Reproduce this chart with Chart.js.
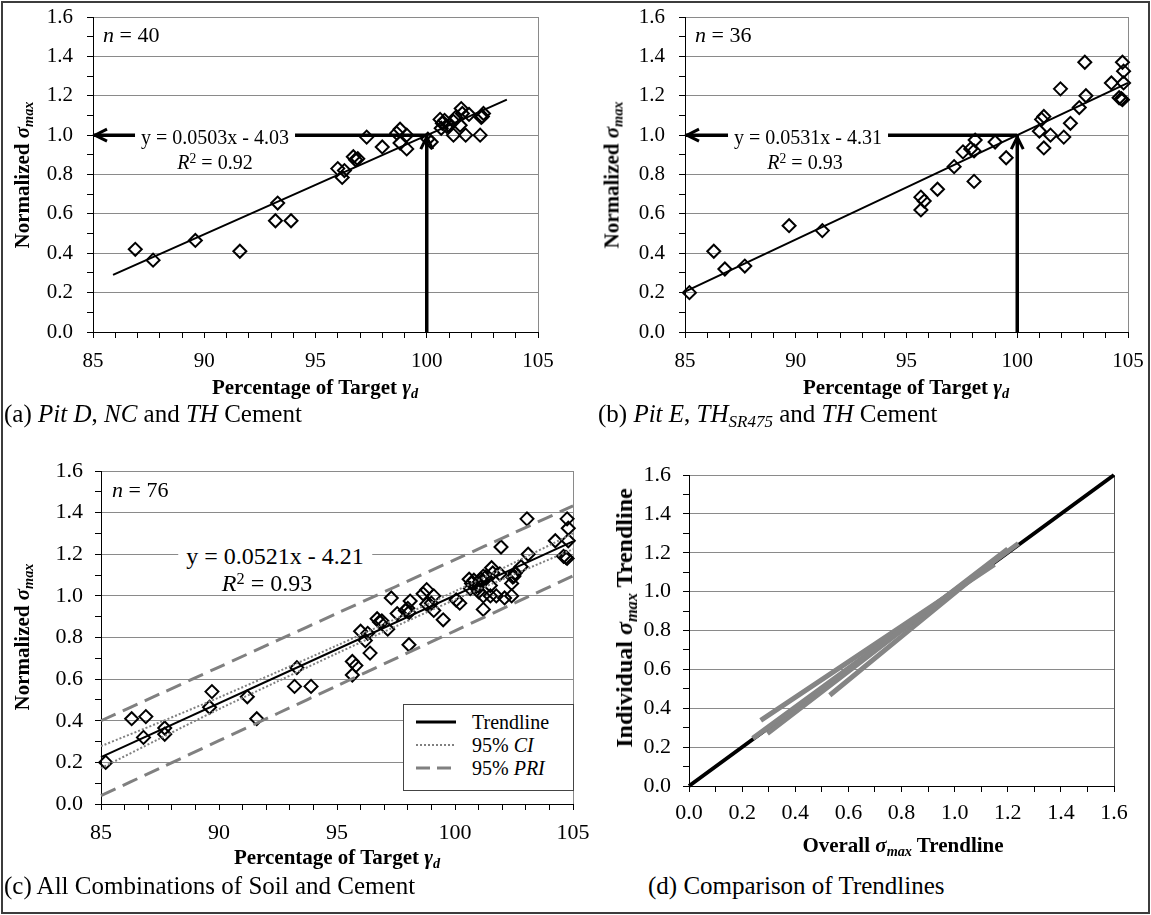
<!DOCTYPE html>
<html>
<head>
<meta charset="utf-8">
<script src="https://cdn.jsdelivr.net/npm/chart.js@4.4.1/dist/chart.umd.min.js"></script>
<style>
  body { margin: 0; background: #fff; }
  #fig { position: relative; width: 1151px; height: 915px; font-family: 'Liberation Serif', 'Times New Roman', serif; color: #000; overflow: hidden; }
  #frame { position: absolute; left: 1px; top: 1px; width: 1145px; height: 909px; border: 2px solid #3c3c3c; }
  canvas { position: absolute; }
  .t { position: absolute; white-space: nowrap; line-height: 1; transform: translate(-50%, -50%); }
  .l { position: absolute; white-space: nowrap; line-height: 1; transform: translate(0, -50%); }
  .v { position: absolute; white-space: nowrap; line-height: 1; transform: translate(-50%, -50%) rotate(-90deg); font-weight: bold; font-size: 21px; }
  .xt { font-weight: bold; font-size: 21px; }
  .cap { font-size: 25px; }
  .n { font-size: 22px; }
  .eq { background: #fff; padding: 1px 6px; }
  sub, sup { font-size: 0.68em; line-height: 0; }
  sub { vertical-align: -0.3em; }
  sup { vertical-align: 0.45em; }
  #legend { position: absolute; left: 403px; top: 704px; width: 169px; height: 85px; border: 1px solid #444; background: #fff; font-size: 20px; }
  #legend svg { position: absolute; left: 0; top: 0; }
  #legend div { position: absolute; left: 68px; white-space: nowrap; line-height: 1; transform: translate(0, -50%); }
</style>
</head>
<body>
<div id="fig">
  <canvas id="chA" width="555" height="395" style="left:5px;top:5px"></canvas>
  <canvas id="chB" width="555" height="395" style="left:595px;top:5px"></canvas>
  <canvas id="chC" width="590" height="415" style="left:5px;top:455px"></canvas>
  <canvas id="chD" width="540" height="415" style="left:600px;top:455px"></canvas>

  <!-- panel (a) -->
  <div class="l n" style="left:103px;top:35px"><i>n</i> = 40</div>
  <div class="t eq" style="left:215px;top:137px;font-size:20px">y = 0.0503x - 4.03</div>
  <div class="t" style="left:215px;top:162px;font-size:20px"><i>R</i><sup>2</sup> = 0.92</div>
  <div class="v" style="left:22px;top:175px">Normalized <i>σ<sub>max</sub></i></div>
  <div class="t xt" style="left:315px;top:387px">Percentage of Target <i>γ<sub>d</sub></i></div>
  <div class="l cap" style="left:4px;top:413px">(a) <i>Pit D</i>, <i>NC</i> and <i>TH</i> Cement</div>

  <!-- panel (b) -->
  <div class="l n" style="left:695px;top:35px"><i>n</i> = 36</div>
  <div class="t eq" style="left:808px;top:137px;font-size:20px">y = 0.0531x - 4.31</div>
  <div class="t" style="left:805px;top:162px;font-size:20px"><i>R</i><sup>2</sup> = 0.93</div>
  <div class="v" style="left:612px;top:175px">Normalized <i>σ<sub>max</sub></i></div>
  <div class="t xt" style="left:906px;top:387px">Percentage of Target <i>γ<sub>d</sub></i></div>
  <div class="l cap" style="left:598px;top:413px">(b) <i>Pit E</i>, <i>TH<sub>SR475</sub></i> and <i>TH</i> Cement</div>

  <!-- panel (c) -->
  <div class="l n" style="left:112px;top:490px"><i>n</i> = 76</div>
  <div class="t eq" style="left:275px;top:556px;font-size:24px;padding:1px 8px">y = 0.0521x - 4.21</div>
  <div class="t" style="left:267px;top:583px;font-size:24px"><i>R</i><sup>2</sup> = 0.93</div>
  <div class="v" style="left:22px;top:637px">Normalized <i>σ<sub>max</sub></i></div>
  <div class="t xt" style="left:337px;top:857px">Percentage of Target <i>γ<sub>d</sub></i></div>
  <div class="l cap" style="left:4px;top:885px">(c) All Combinations of Soil and Cement</div>
  <div id="legend">
    <svg width="169" height="85">
      <line x1="12" y1="17" x2="52" y2="17" stroke="#000" stroke-width="3"/>
      <line x1="12" y1="40" x2="52" y2="40" stroke="#808080" stroke-width="2" stroke-dasharray="2,2"/>
      <line x1="12" y1="63" x2="52" y2="63" stroke="#808080" stroke-width="3" stroke-dasharray="14,7"/>
    </svg>
    <div style="top:17px">Trendline</div>
    <div style="top:40px">95% <i>CI</i></div>
    <div style="top:63px">95% <i>PRI</i></div>
  </div>

  <!-- panel (d) -->
  <div class="v" style="left:624px;top:618px;font-size:24px">Individual <i>σ<sub>max</sub></i> Trendline</div>
  <div class="t xt" style="left:903px;top:845px">Overall <i>σ<sub>max</sub></i> Trendline</div>
  <div class="l cap" style="left:648px;top:885px">(d) Comparison of Trendlines</div>

  <div id="frame"></div>
</div>

<script>
const SERIF = "'Liberation Serif', 'Times New Roman', serif";
Chart.defaults.font.family = SERIF;
Chart.defaults.color = "#000";

// (a) Pit D, NC and TH cement: % of target dry unit weight vs normalized sigma max
const pitDx = [86.9, 87.7, 89.6, 91.6, 93.3, 93.2, 93.9, 96.0, 96.2, 96.3,
  96.7, 96.8, 96.9, 97.3, 98.0, 98.65, 98.8, 98.8, 99.1, 99.1,
  100.2, 100.05, 100.6, 100.7, 100.65, 101.2, 101.2, 101.55, 101.6, 101.5,
  101.75, 101.9, 102.4, 102.5, 102.55, 102.45, 101.3, 100.8, 101.0, 100.9];
const pitDy = [0.42, 0.365, 0.465, 0.41, 0.655, 0.565, 0.565, 0.83, 0.785, 0.82,
  0.89, 0.875, 0.88, 0.99, 0.94, 1.01, 1.03, 0.96, 1.0, 0.93,
  0.965, 0.98, 1.08, 1.06, 1.035, 1.07, 1.0, 1.135, 1.11, 1.05,
  1.0, 1.105, 1.0, 1.095, 1.11, 1.09, 1.09, 1.075, 1.05, 1.045];

// (b) Pit E, TH_SR475 and TH cement
const pitEx = [85.2, 86.3, 86.8, 87.7, 89.7, 91.2, 95.65, 95.65, 95.8, 96.4,
  97.15, 97.55, 97.9, 98.05, 98.1, 98.05, 99.0, 99.5, 101.0, 101.1,
  101.2, 101.2, 101.5, 102.1, 101.95, 102.4, 102.8, 103.1, 103.05, 104.25,
  104.7, 104.75, 104.8, 104.8, 104.75, 104.6];
const pitEy = [0.20, 0.41, 0.32, 0.335, 0.54, 0.515, 0.685, 0.62, 0.665, 0.725,
  0.84, 0.915, 0.93, 0.92, 0.975, 0.765, 0.965, 0.885, 1.02, 1.08,
  1.095, 0.935, 1.0, 0.99, 1.235, 1.06, 1.14, 1.2, 1.37, 1.265,
  1.185, 1.37, 1.325, 1.265, 1.18, 1.19];

// trendline end points
const trendAx = [85.9, 103.6], trendAy = [0.29, 1.18];
const trendBx = [85, 105], trendBy = [0.205, 1.265];
const trendCx = [85, 105], trendCy = [0.225, 1.262];

// (c) confidence / prediction bands
const bandX = [85, 87.5, 90, 92.5, 95, 97.5, 100, 102.5, 105];
const ciUpper = [0.278, 0.393, 0.512, 0.636, 0.762, 0.890, 1.022, 1.159, 1.300];
const ciLower = [0.172, 0.315, 0.456, 0.590, 0.724, 0.854, 0.982, 1.103, 1.224];
const priUpper = [0.40, 0.529, 0.658, 0.787, 0.916, 1.045, 1.174, 1.303, 1.432];
const priLower = [0.04, 0.172, 0.304, 0.436, 0.568, 0.70, 0.832, 0.964, 1.096];

// (d) individual trendlines plotted against the overall one
const oneToOne = [0, 1.6];
const indivOverall = [[0.24, 1.24], [0.27, 1.15], [0.295, 1.20], [0.53, 1.14]];
const indivOwn = [[0.245, 1.248], [0.338, 1.14], [0.27, 1.22], [0.467, 1.15]];

// arrows in (a) and (b)
const targetPct = 100;
const normLevel = 1.0;

const pts = (xs, ys) => xs.map((x, i) => ({ x: x, y: ys[i] }));
const isMajor = (v, step) => Math.abs(v / step - Math.round(v / step)) < 1e-6;

function diamonds(xs, ys) {
  return {
    data: pts(xs, ys),
    pointStyle: "rectRot",
    pointRadius: 6.5,
    borderWidth: 2,
    borderColor: "#000",
    backgroundColor: "rgba(0,0,0,0)",
    clip: 10
  };
}

function line(xs, ys, color, width, dash) {
  return {
    data: pts(xs, ys),
    showLine: true,
    pointRadius: 0,
    borderColor: color,
    borderWidth: width,
    borderDash: dash || [],
    tension: 0.3,
    clip: 4
  };
}

function yAxis(w, size, pad) {
  return {
    min: 0, max: 1.6,
    afterFit: s => { s.width = w; s.paddingTop = 0; s.paddingBottom = 0; },
    ticks: {
      stepSize: 0.1, autoSkip: false, padding: pad, color: "#000",
      font: { family: SERIF, size: size },
      callback: v => isMajor(v, 0.2) ? v.toFixed(1) : ""
    },
    grid: {
      color: c => isMajor(c.tick.value, 0.2) ? "#8a8a8a" : "rgba(0,0,0,0)",
      tickColor: "#000", tickLength: 6
    },
    border: { color: "#000", width: 1 }
  };
}

function xAxis(h, min, max, step, major, size, pad, fmt) {
  return {
    type: "linear", min: min, max: max,
    afterFit: s => { s.height = h; s.paddingLeft = 0; s.paddingRight = 0; },
    ticks: {
      stepSize: step, autoSkip: false, padding: pad, color: "#000", maxRotation: 0,
      font: { family: SERIF, size: size },
      callback: v => isMajor(v, major) ? fmt(v) : ""
    },
    grid: { drawOnChartArea: false, tickColor: "#000", tickLength: 6 },
    border: { color: "#000", width: 1 }
  };
}

const decor = {
  id: "decor",
  beforeDatasetsDraw(chart, args, opts) {
    const ctx = chart.ctx, a = chart.chartArea;
    ctx.save();
    ctx.strokeStyle = opts.edge || "#8a8a8a";
    ctx.lineWidth = 1;
    ctx.beginPath();
    ctx.moveTo(a.right + 0.5, a.top);
    ctx.lineTo(a.right + 0.5, a.bottom);
    ctx.stroke();
    ctx.restore();
  },
  afterDatasetsDraw(chart, args, opts) {
    if (!opts.arrow) return;
    const ctx = chart.ctx;
    const px = chart.scales.x.getPixelForValue(targetPct);
    const py = chart.scales.y.getPixelForValue(normLevel);
    const left = chart.scales.x.getPixelForValue(chart.scales.x.min);
    ctx.save();
    ctx.strokeStyle = "#000";
    ctx.lineWidth = 3;
    ctx.beginPath();
    ctx.moveTo(left + 14, py - 6);
    ctx.lineTo(left + 2, py);
    ctx.lineTo(left + 14, py + 6);
    ctx.moveTo(px - 6, py + 14);
    ctx.lineTo(px, py + 2);
    ctx.lineTo(px + 6, py + 14);
    ctx.stroke();
    ctx.restore();
  }
};

function baseOptions(pr, pt, yw, xOpts, ySize, yPad, decorOpts) {
  return {
    responsive: false,
    animation: false,
    layout: { padding: { left: 0, right: pr, top: pt, bottom: 0 } },
    plugins: { legend: { display: false }, tooltip: { enabled: false }, decor: decorOpts },
    scales: { x: xOpts, y: yAxis(yw, ySize, yPad) }
  };
}

const pct = v => String(Math.round(v));
const dec = v => v.toFixed(1);

// (a)
new Chart(document.getElementById("chA"), {
  type: "scatter",
  data: {
    datasets: [
      line([85, targetPct], [normLevel, normLevel], "#000", 3.5),
      line([targetPct, targetPct], [0, normLevel], "#000", 3.5),
      line(trendAx, trendAy, "#000", 2),
      diamonds(pitDx, pitDy)
    ]
  },
  options: baseOptions(22, 12, 88, xAxis(68, 85, 105, 1, 5, 21, 11, pct), 21, 14, { arrow: true }),
  plugins: [decor]
});

// (b)
new Chart(document.getElementById("chB"), {
  type: "scatter",
  data: {
    datasets: [
      line([85, targetPct], [normLevel, normLevel], "#000", 3.5),
      line([targetPct, targetPct], [0, normLevel], "#000", 3.5),
      line(trendBx, trendBy, "#000", 2),
      diamonds(pitEx, pitEy)
    ]
  },
  options: baseOptions(22, 12, 90, xAxis(68, 85, 105, 1, 5, 21, 11, pct), 21, 14, { arrow: true }),
  plugins: [decor]
});

// (c)
new Chart(document.getElementById("chC"), {
  type: "scatter",
  data: {
    datasets: [
      line(trendCx, trendCy, "#000", 2),
      line(bandX, ciUpper, "#808080", 2, [2, 2]),
      line(bandX, ciLower, "#808080", 2, [2, 2]),
      line(bandX, priUpper, "#808080", 3, [16, 8]),
      line(bandX, priLower, "#808080", 3, [16, 8]),
      diamonds(pitDx.concat(pitEx), pitDy.concat(pitEy))
    ]
  },
  options: baseOptions(22, 16, 96, xAxis(66, 85, 105, 1, 5, 22, 10, pct), 22, 12, {}),
  plugins: [decor]
});

// (d)
const dSets = indivOverall.map((xs, i) => line(xs, indivOwn[i], "#858585", 5));
dSets.push(line(oneToOne, oneToOne, "#000", 4));
new Chart(document.getElementById("chD"), {
  type: "scatter",
  data: { datasets: dSets },
  options: baseOptions(26, 20, 89, xAxis(84, 0, 1.6, 0.1, 0.2, 22, 8, dec), 22, 12, { edge: "#555" }),
  plugins: [decor]
});
</script>
</body>
</html>
